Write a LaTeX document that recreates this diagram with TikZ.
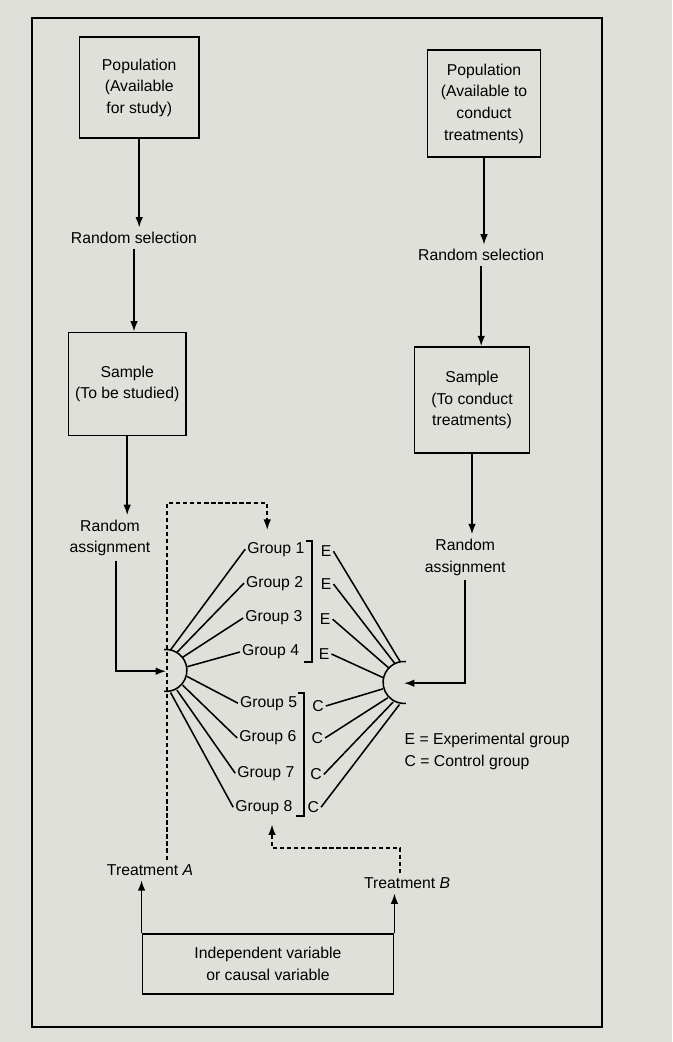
\documentclass[tikz,border=0pt]{standalone}
\usepackage{fontspec}
\setmainfont{Liberation Sans}
\usepackage{tikz}
\usetikzlibrary{positioning, calc, arrows.meta}
\definecolor{paper}{RGB}{224,224,219}
\tikzstyle{box} = [draw, rectangle, align=center,
line width=1.2pt, inner sep=1mm]
\tikzstyle{lbl} = [align=center, inner sep=1mm]
\tikzstyle{grp} = [inner sep=1pt]
\tikzstyle{hub} = [circle, minimum size=1.05cm, inner sep=0pt]
\tikzstyle{arr} = [-{Latex[length=2.6mm, width=1.9mm]}, line width=1.1pt]
\tikzstyle{dashline} = [line width=1.1pt, dash pattern=on 3pt off 2pt]

\begin{document}
\begin{tikzpicture}[font=\fontsize{11.2}{15.4}\selectfont, line width=1.1pt]
	\fill[paper] (0,0) rectangle (16.8,-26.05);
	\useasboundingbox (0,0) rectangle (16.8,-26.05);
	\draw[line width=1.2pt] (0.8,-0.45) rectangle (15.05,-25.68);
	%% left column
	\node[box, minimum width=2.98cm, minimum height=2.53cm](pop1) at (3.48,-2.19) {Population\\(Available\\for study)};
	\node[lbl](rs1) at (3.35,-5.95) {Random selection};
	\node[box, minimum width=2.93cm, minimum height=2.58cm](samp1) at (3.18,-9.6) {Sample\\(To be studied)};
	\node[lbl](ra1) at (2.75,-13.45) {Random\\assignment};
	%% right column
	\node[box, minimum width=2.83cm, minimum height=2.68cm](pop2) at (12.1,-2.59) {Population\\(Available to\\conduct\\treatments)};
	\node[lbl](rs2) at (12.03,-6.38) {Random selection};
	\node[box, minimum width=2.88cm, minimum height=2.65cm](samp2) at (11.8,-10.0) {Sample\\(To conduct\\treatments)};
	\node[lbl](ra2) at (11.63,-13.93) {Random\\assignment};
	%% hubs
	\node[hub](hubL) at (4.15,-16.78) {};
	\node[hub](hubR) at (10.1,-17.08) {};
	\draw (hubL.95) arc[start angle=95, end angle=-95, radius=0.525cm];
	\draw (hubR.85) arc[start angle=85, end angle=275, radius=0.525cm];
	%% groups
	\node[grp, anchor=west](g1) at (6.13,-13.73) {Group 1};
	\node[grp, anchor=west](g2) at (6.1,-14.58) {Group 2};
	\node[grp, anchor=west](g3) at (6.08,-15.45) {Group 3};
	\node[grp, anchor=west](g4) at (6.0,-16.3) {Group 4};
	\node[grp, anchor=west](g5) at (5.95,-17.58) {Group 5};
	\node[grp, anchor=west](g6) at (5.93,-18.45) {Group 6};
	\node[grp, anchor=west](g7) at (5.88,-19.33) {Group 7};
	\node[grp, anchor=west](g8) at (5.83,-20.18) {Group 8};
	\node[grp](e1) at (8.15,-13.78) {E};
	\node[grp](e2) at (8.15,-14.6) {E};
	\node[grp](e3) at (8.13,-15.48) {E};
	\node[grp](e4) at (8.1,-16.35) {E};
	\node[grp](c5) at (7.95,-17.65) {C};
	\node[grp](c6) at (7.93,-18.45) {C};
	\node[grp](c7) at (7.9,-19.36) {C};
	\node[grp](c8) at (7.83,-20.18) {C};
	\draw (7.65,-13.53) -- (7.8,-13.53) -- (7.8,-16.55) -- (7.6,-16.55);
	\draw (7.45,-17.33) -- (7.6,-17.33) -- (7.6,-20.4) -- (7.4,-20.4);
	\node[align=left, anchor=west](legend) at (9.98,-18.78) {E = Experimental group\\C = Control group};
	%% treatments
	\node[lbl](trtA) at (3.75,-21.75) {Treatment \textit{A}};
	\node[lbl](trtB) at (10.18,-22.08) {Treatment \textit{B}};
	\node[box, minimum width=6.28cm, minimum height=1.5cm](indep) at (6.7,-24.1) {Independent variable\\or causal variable};
	\coordinate (dashA) at (4.18,-12.58);
	\coordinate (dashA2) at (6.68,-12.58);
	\coordinate (dashB) at (10.0,-21.2);
	\coordinate (dashB2) at (6.8,-21.2);
	%% down the columns
	\draw[arr] (pop1) -- (pop1 |- rs1.north);
	\draw[arr] (rs1) -- (rs1 |- samp1.north);
	\draw[arr] (samp1) -- (samp1 |- ra1.north);
	\draw[arr] ([xshift=0.15cm]ra1.south) |- (hubL.center);
	\draw[arr] (pop2) -- (pop2 |- rs2.north);
	\draw[arr] (rs2) -- (rs2 |- samp2.north);
	\draw[arr] (samp2) -- (samp2 |- ra2.north);
	\draw[arr] (ra2) |- (hubR.center);
	%% hub to groups
	\draw (hubL.78) -- (g1.west);
	\draw (hubL.60) -- (g2.west);
	\draw (hubL.40) -- (g3.west);
	\draw (hubL.12) -- (g4.west);
	\draw (hubL.-14) -- (g5.west);
	\draw (hubL.-40) -- (g6.west);
	\draw (hubL.-60) -- (g7.west);
	\draw (hubL.-78) -- (g8.west);
	\draw (e1.east) -- (hubR.100);
	\draw (e2.east) -- (hubR.115);
	\draw (e3.east) -- (hubR.135);
	\draw (e4.east) -- (hubR.165);
	\draw (c5.east) -- (hubR.195);
	\draw (c6.east) -- (hubR.222);
	\draw (c7.east) -- (hubR.240);
	\draw (c8.east) -- (hubR.258);
	%% treatments to groups
	\draw[dashline, arr, shorten >=0.25cm] (dashA |- trtA.north) -- (dashA) -- (dashA2) -- (dashA2 |- g1.north);
	\draw[dashline, arr, shorten >=0.2cm] (dashB |- trtB.north) -- (dashB) -- (dashB2) -- (dashB2 |- g8.south);
	\draw[arr] (indep.north west) -- (indep.north west |- trtA.south);
	\draw[arr] (indep.north east) -- (indep.north east |- trtB.south);
\end{tikzpicture}
\end{document}
